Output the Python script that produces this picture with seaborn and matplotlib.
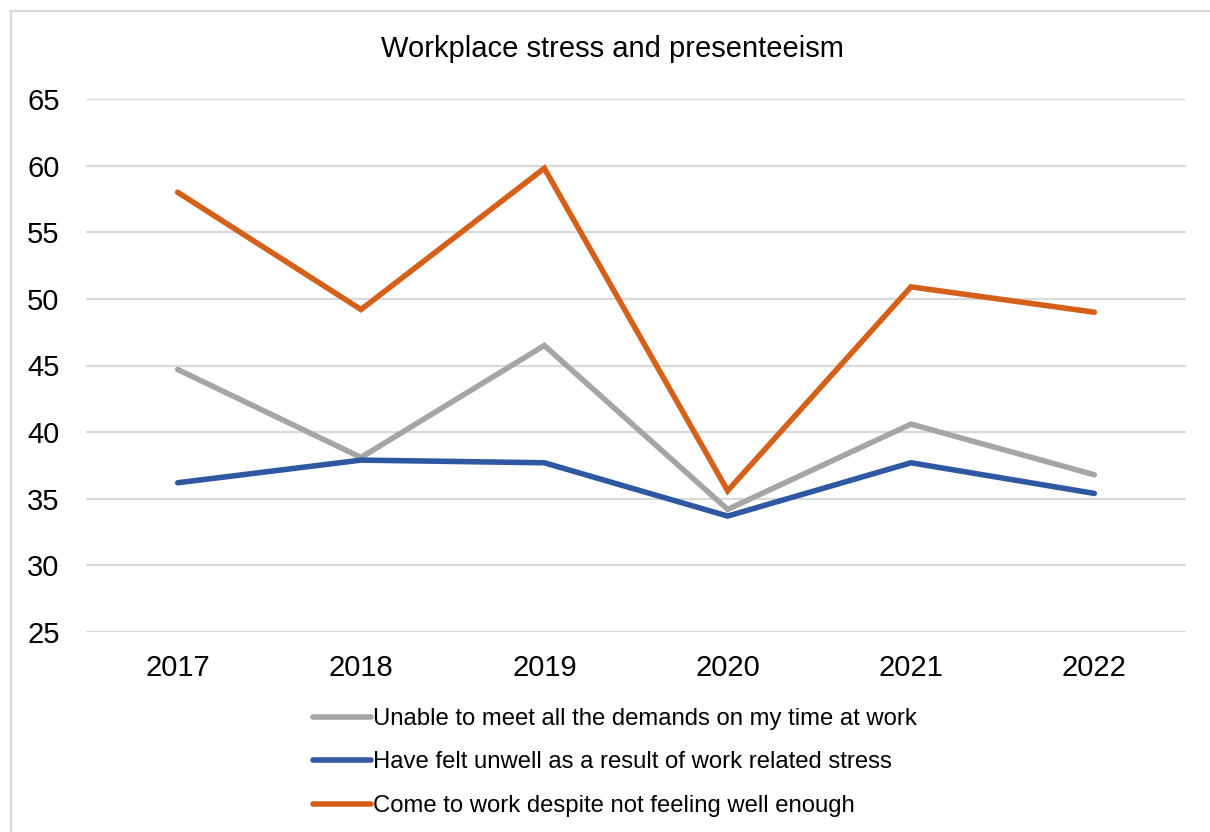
import matplotlib
matplotlib.use("Agg")
import matplotlib.pyplot as plt
from matplotlib.lines import Line2D
import seaborn as sns
import pandas as pd

years = ["2017", "2018", "2019", "2020", "2021", "2022"]
unable_to_meet = [44.7, 38.1, 46.5, 34.2, 40.6, 36.8]
felt_unwell = [36.2, 37.9, 37.7, 33.7, 37.7, 35.4]
came_in_unwell = [58.0, 49.2, 59.8, 35.6, 50.9, 49.0]

series_names = [
    "Unable to meet all the demands on my time at work",
    "Have felt unwell as a result of work related stress",
    "Come to work despite not feeling well enough",
]
series_values = [unable_to_meet, felt_unwell, came_in_unwell]
colors = ["#a5a5a5", "#2f58a2", "#d4601a"]
y_ticks = [25, 30, 35, 40, 45, 50, 55, 60, 65]

rows = []
for name, vals in zip(series_names, series_values):
    for i, (yr, v) in enumerate(zip(years, vals)):
        rows.append({"pos": i, "year": yr, "value": v, "series": name})
df = pd.DataFrame(rows)

sns.set_theme(style="white")
plt.rcParams["font.family"] = ["Liberation Sans", "DejaVu Sans"]
plt.rcParams["text.color"] = "#000000"

fig = plt.figure(figsize=(12.1, 8.32), dpi=100)
ax = fig.add_axes([86 / 1210, 1 - 632 / 832, 1100 / 1210, 533 / 832])

sns.lineplot(
    data=df, x="pos", y="value", hue="series", hue_order=series_names,
    palette=colors, linewidth=4.0, ax=ax, legend=False, sort=False,
    solid_capstyle="round", solid_joinstyle="miter",
)

ax.set_xlim(-0.5, len(years) - 0.5)
ax.set_ylim(25, 65)
ax.set_yticks(y_ticks)
ax.set_yticklabels([str(t) for t in y_ticks])
ax.set_xticks(range(len(years)))
ax.set_xticklabels(years)
ax.tick_params(axis="both", labelsize=21, colors="#000000", length=0)
ax.tick_params(axis="y", pad=19)
ax.tick_params(axis="x", pad=16)
ax.set_xlabel("")
ax.set_ylabel("")
ax.grid(axis="y", color="#d9d9d9", linewidth=1.6)
ax.grid(axis="x", visible=False)
ax.set_axisbelow(True)
for s in ax.spines.values():
    s.set_visible(False)

fig.text(612 / 1210, 1 - 49 / 832, "Workplace stress and presenteeism",
         ha="center", va="center", fontsize=21, color="#000000")

handles = [Line2D([0], [0], color=c, linewidth=4.0, solid_capstyle="round") for c in colors]
leg = fig.legend(handles, series_names, loc="upper center",
                 bbox_to_anchor=(615 / 1210, 1 - 708 / 832), frameon=False,
                 fontsize=17.2, handlelength=2.4, handletextpad=0.08,
                 labelspacing=0.9, borderaxespad=0, borderpad=0)
for t in leg.get_texts():
    t.set_color("#000000")

# light frame around the chart
fig.add_artist(Line2D([10.5 / 1210, 10.5 / 1210], [0, 1 - 11 / 832],
                      transform=fig.transFigure, color="#d9d9d9", linewidth=1.6))
fig.add_artist(Line2D([10 / 1210, 1], [1 - 11 / 832, 1 - 11 / 832],
                      transform=fig.transFigure, color="#d9d9d9", linewidth=1.6))

fig.savefig("out.png", dpi=100, facecolor="white")
